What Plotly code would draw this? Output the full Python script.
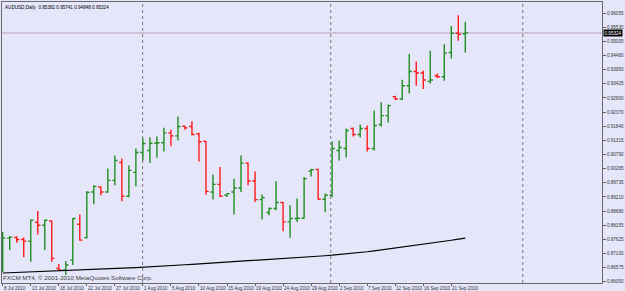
import plotly.graph_objects as go

# ---- data ----
bar_index = list(range(67))
opens = [0.87601,0.87675,0.87701,0.87627,0.87564,0.88269,0.88158,0.88317,0.86550,0.86487,
         0.86858,0.88195,0.87694,0.89394,0.89580,0.89394,0.89829,0.90497,0.89235,0.90126,
         0.90868,0.90943,0.91214,0.91228,0.91600,0.91488,0.91845,0.91834,0.91563,0.91288,
         0.89394,0.89680,0.89272,0.89394,0.89543,0.90471,0.89803,0.89112,0.88629,0.88778,
         0.89001,0.88280,0.88407,0.88418,0.90174,0.90237,0.89123,0.89272,0.90943,0.91017,
         0.91759,0.91537,0.91759,0.91017,0.91908,0.92242,0.92948,0.92862,0.93356,0.93887,
         0.93828,0.93516,0.93727,0.93690,0.94592,0.95313,0.95290]
highs = [0.87909,0.87749,0.87749,0.87701,0.88369,0.88689,0.88369,0.88330,0.86710,0.86821,
         0.88429,0.88555,0.89420,0.89643,0.89606,0.90274,0.90757,0.90645,0.90386,0.91017,
         0.91388,0.91436,0.91462,0.91785,0.91711,0.92205,0.91871,0.92030,0.91600,0.91300,
         0.90051,0.90322,0.89357,0.89892,0.90757,0.90508,0.90163,0.89298,0.88815,0.89792,
         0.89023,0.88900,0.89149,0.89951,0.90263,0.90263,0.89335,0.91277,0.91314,0.91759,
         0.91796,0.91908,0.91871,0.92428,0.92736,0.92651,0.92985,0.93579,0.94533,0.94258,
         0.93913,0.94656,0.93813,0.94904,0.95584,0.95981,0.95741]
lows = [0.86413,0.87230,0.87501,0.86959,0.86795,0.87812,0.87230,0.86795,0.86461,0.86301,
        0.86673,0.87575,0.87664,0.88937,0.89272,0.89372,0.89643,0.89049,0.89197,0.89606,
        0.90571,0.90471,0.90671,0.90905,0.91102,0.91314,0.91711,0.91511,0.90534,0.89298,
        0.89112,0.89209,0.89209,0.88555,0.89394,0.89643,0.89023,0.88369,0.88529,0.88715,
        0.87935,0.87686,0.88280,0.88407,0.89977,0.89112,0.88640,0.89197,0.90571,0.90683,
        0.91462,0.91425,0.90905,0.90943,0.91834,0.91982,0.92825,0.92825,0.93070,0.93356,
        0.93233,0.93441,0.93642,0.93542,0.94370,0.95027,0.94592]
closes = [0.87675,0.87712,0.87627,0.87564,0.88343,0.88158,0.88343,0.86921,0.86487,0.86673,
          0.88407,0.87601,0.89383,0.89606,0.89394,0.89829,0.90571,0.89235,0.90200,0.90868,
          0.91202,0.91214,0.91228,0.91600,0.91488,0.91834,0.91785,0.91537,0.91266,0.89420,
          0.89680,0.89235,0.89335,0.89543,0.90471,0.89803,0.89112,0.89186,0.88778,0.89001,
          0.88280,0.88407,0.88418,0.89892,0.90226,0.89123,0.89272,0.91017,0.91054,0.91685,
          0.91537,0.91759,0.91017,0.91871,0.92242,0.92613,0.92862,0.93356,0.93887,0.93828,
          0.93568,0.93568,0.93690,0.94570,0.95313,0.95276,0.95324]
moving_avg = [0.86376,0.86385,0.86394,0.86404,0.86413,0.86422,0.86432,0.86441,0.86450,0.86460,
              0.86469,0.86481,0.86493,0.86505,0.86517,0.86529,0.86540,0.86552,0.86564,0.86576,
              0.86588,0.86604,0.86620,0.86636,0.86652,0.86668,0.86684,0.86700,0.86716,0.86732,
              0.86748,0.86763,0.86778,0.86793,0.86808,0.86823,0.86837,0.86852,0.86867,0.86882,
              0.86897,0.86917,0.86938,0.86958,0.86979,0.86999,0.87020,0.87040,0.87060,0.87081,
              0.87101,0.87135,0.87168,0.87201,0.87235,0.87268,0.87302,0.87335,0.87368,0.87402,
              0.87435,0.87475,0.87515,0.87555,0.87596,0.87636,0.87676]

x_tick_index = [0, 4, 8, 12, 16, 20, 24, 28, 32, 36, 40, 44, 48, 52, 56, 60, 64]
x_tick_labels = ["8 Jul 2010", "13 Jul 2010", "18 Jul 2010", "22 Jul 2010", "27 Jul 2010",
                 "1 Aug 2010", "5 Aug 2010", "10 Aug 2010", "15 Aug 2010", "19 Aug 2010",
                 "24 Aug 2010", "29 Aug 2010", "2 Sep 2010", "7 Sep 2010", "12 Sep 2010",
                 "16 Sep 2010", "21 Sep 2010"]
y_tick_values = [0.96055, 0.95530, 0.95005, 0.94480, 0.93950, 0.93425, 0.92900, 0.92370,
                 0.91840, 0.91315, 0.90790, 0.90265, 0.89735, 0.89210, 0.88680, 0.88155,
                 0.87625, 0.87100, 0.86575, 0.86050]
y_tick_labels = ["%.5f" % v for v in y_tick_values]
period_separators = [19.96, 46.8, 74.2]
current_price = 0.95324
title_text = "AUDUSD,Daily  0.95382 0.95741 0.94848 0.95324"
copyright_text = "FXCM MT4, \u00a9 2001-2010 MetaQuotes Software Corp."

# ---- figure ----
BG = "#E6E6FA"
FONT = "Liberation Sans, Arial, sans-serif"

fig = go.Figure()
fig.add_trace(go.Ohlc(
    x=bar_index, open=opens, high=highs, low=lows, close=closes,
    increasing=dict(line=dict(color="#1f8f1f", width=1.4)),
    decreasing=dict(line=dict(color="#ff1a1a", width=1.4)),
    tickwidth=0.38, hoverinfo="skip", showlegend=False,
))
fig.add_trace(go.Scatter(
    x=bar_index, y=moving_avg, mode="lines",
    line=dict(color="#000000", width=1.2), hoverinfo="skip", showlegend=False,
))

for s in period_separators:
    fig.add_shape(type="line", xref="x", yref="paper", x0=s, x1=s, y0=0, y1=1,
                  line=dict(color="#7a7a7a", width=1, dash="dot"), layer="below")

fig.add_shape(type="line", xref="paper", yref="y", x0=0, x1=1,
              y0=current_price, y1=current_price,
              line=dict(color="#cfc3d6", width=2), layer="below")

for idx, lab in zip(x_tick_index, x_tick_labels):
    fig.add_annotation(x=idx, y=0, xref="x", yref="paper", text=lab, showarrow=False,
                       xanchor="left", yanchor="top", xshift=-1, yshift=-1,
                       font=dict(family=FONT, size=4.6, color="#333333"))

fig.add_annotation(x=0, y=1, xref="paper", yref="paper", text=title_text, showarrow=False,
                   xanchor="left", yanchor="top", xshift=1, yshift=-1,
                   font=dict(family=FONT, size=4.6, color="#000000"))
fig.add_annotation(x=0, y=0, xref="paper", yref="paper", text=copyright_text, showarrow=False,
                   xanchor="left", yanchor="bottom", xshift=-1, yshift=0,
                   font=dict(family=FONT, size=6.2, color="#404040"))
fig.add_annotation(x=1, y=current_price, xref="paper", yref="y",
                   text="%.5f" % current_price, showarrow=False,
                   xanchor="left", yanchor="middle", xshift=1,
                   bgcolor="#000000", borderpad=0.5,
                   font=dict(family=FONT, size=4.6, color="#ffffff"))

fig.update_layout(
    width=625, height=291,
    margin=dict(l=2, r=17, t=1, b=8),
    paper_bgcolor=BG, plot_bgcolor=BG,
    showlegend=False,
    xaxis=dict(range=[-0.1, 85.5], showgrid=False, zeroline=False,
               tickvals=x_tick_index, showticklabels=False,
               ticks="outside", ticklen=2, tickcolor="#606060",
               showline=True, linecolor="#6a6a6a", linewidth=1, mirror=True,
               rangeslider=dict(visible=False), fixedrange=True),
    yaxis=dict(range=[0.86004, 0.96475], side="right", showgrid=False, zeroline=False,
               tickvals=y_tick_values, ticktext=y_tick_labels,
               ticks="outside", ticklen=3, tickcolor="#606060",
               tickfont=dict(family=FONT, size=4.6, color="#333333"),
               showline=True, linecolor="#6a6a6a", linewidth=1, mirror=True,
               fixedrange=True),
)

fig.write_html("out.html")
